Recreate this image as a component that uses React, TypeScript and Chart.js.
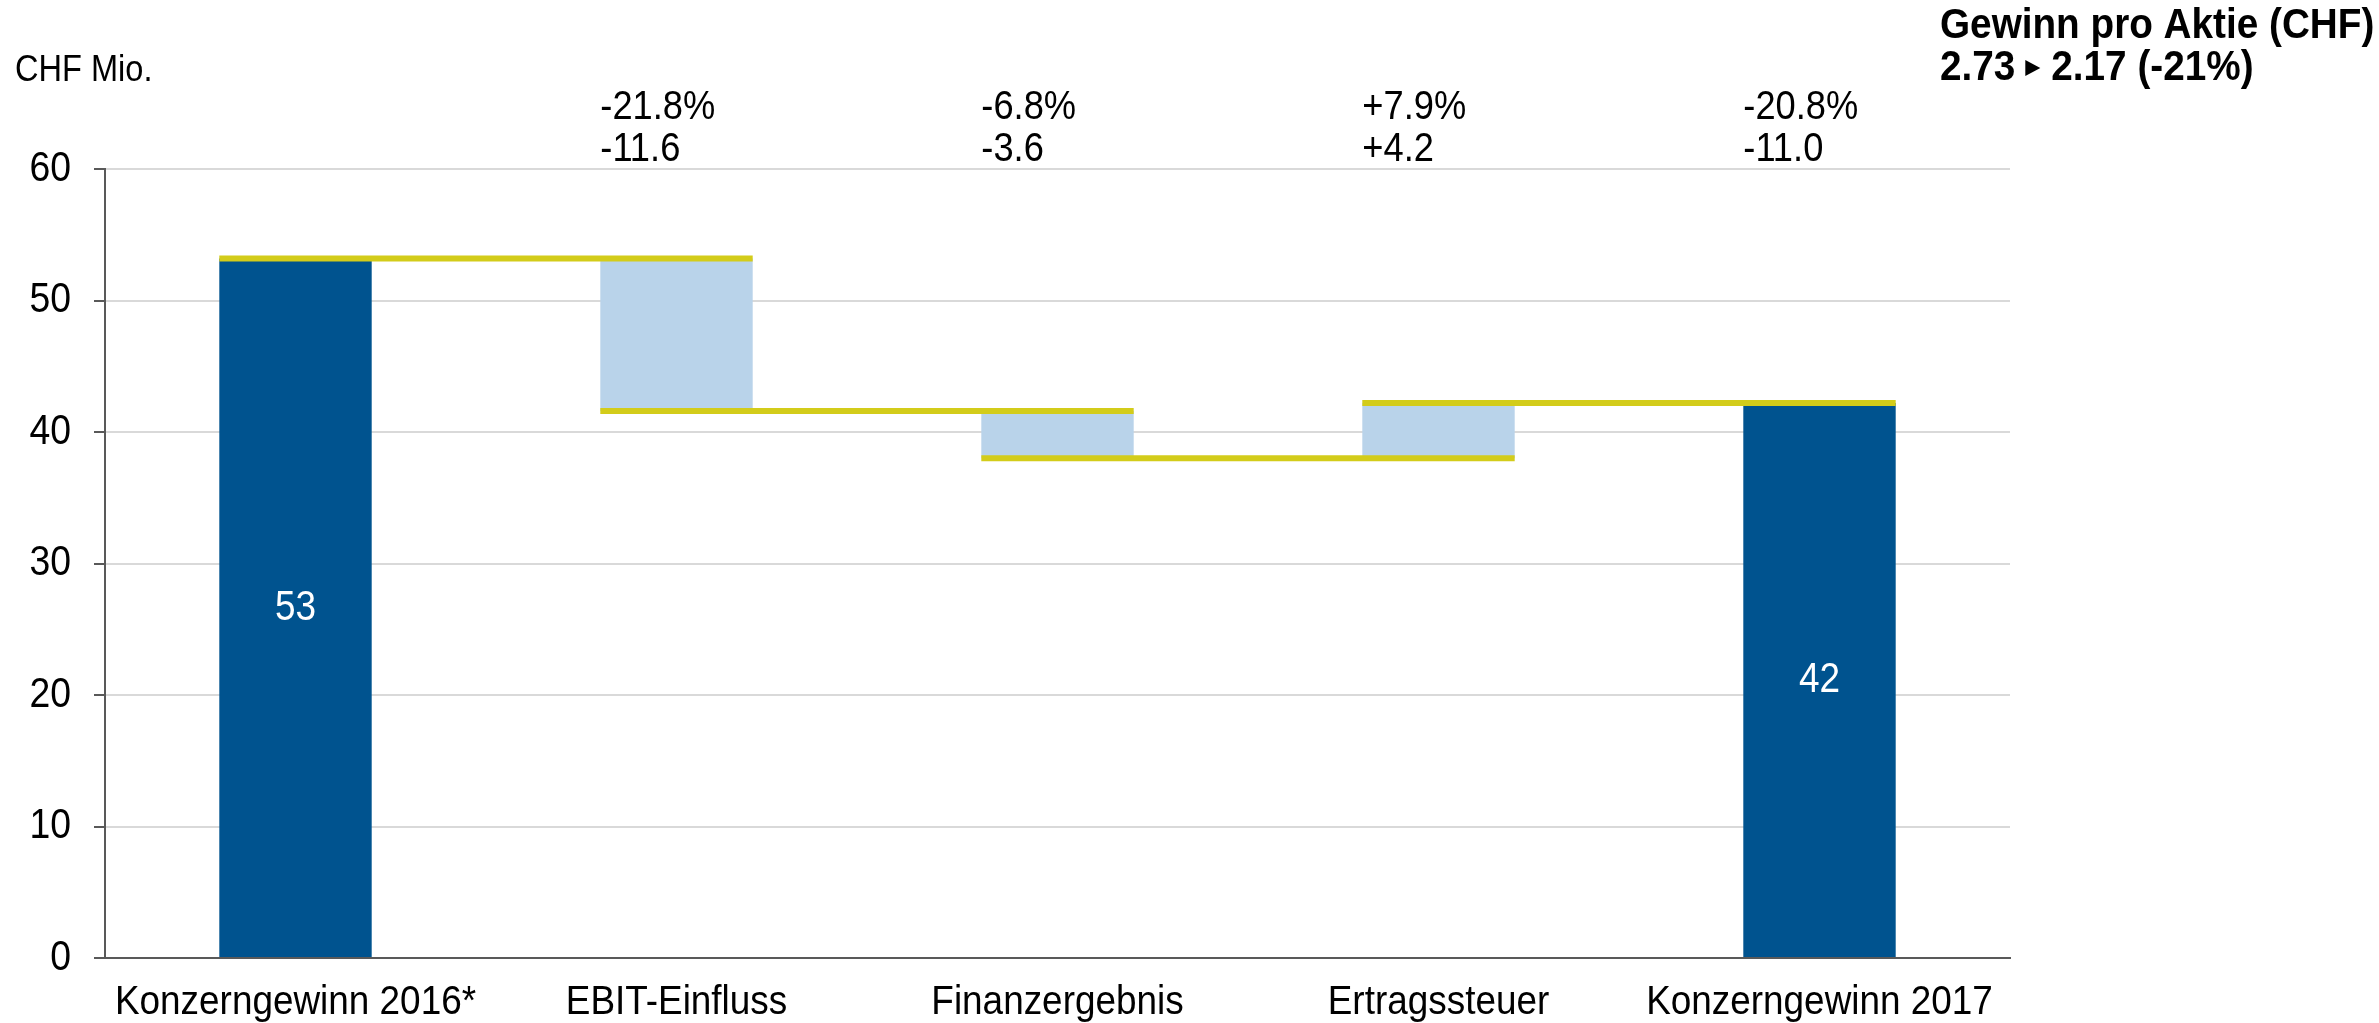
import React, { useEffect, useRef } from "react";
import { Chart, registerables } from "chart.js";

Chart.register(...registerables);

const categories = ["Konzerngewinn 2016*", "EBIT-Einfluss", "Finanzergebnis", "Ertragssteuer", "Konzerngewinn 2017"];
const barStart = [0, 41.6, 38.0, 38.0, 0];
const barEnd = [53.2, 53.2, 41.6, 42.2, 42.2];
const connectorLevels = [53.2, 41.6, 38.0, 42.2];
const pctLabels = ["", "-21.8%", "-6.8%", "+7.9%", "-20.8%"];
const diffLabels = ["", "-11.6", "-3.6", "+4.2", "-11.0"];
const insideLabels = ["53", "", "", "", "42"];
const barKinds = ["total", "delta", "delta", "delta", "total"];
const unitLabel = "CHF Mio.";
const epsTitle = "Gewinn pro Aktie (CHF)";
const epsFrom = "2.73";
const epsTo = "2.17 (-21%)";

const FONT = "'Liberation Sans', Arial, Helvetica, sans-serif";
const DARK_BLUE = "#00538F";
const LIGHT_BLUE = "#B9D3EA";
const YELLOW = "#D3CC1A";

const W = 2379;
const H = 1023;

function drawText(ctx: any, text: string, x: number, y: number, size: number, k: number, align: string, bold = false, color = "#000") {
  ctx.save();
  ctx.translate(x, y);
  ctx.scale(k, 1);
  ctx.font = `${bold ? "bold " : ""}${size}px ${FONT}`;
  ctx.fillStyle = color;
  ctx.textAlign = align;
  ctx.textBaseline = "middle";
  ctx.fillText(text, 0, 0);
  const w = ctx.measureText(text).width * k;
  ctx.restore();
  return w;
}

const overlayPlugin = {
  id: "overlay",
  afterDatasetsDraw(chart: any) {
    const ctx = chart.ctx;
    const meta = chart.getDatasetMeta(0);
    const y = chart.scales.y;
    const x = chart.scales.x;
    const area = chart.chartArea;
    ctx.save();
    ctx.strokeStyle = YELLOW;
    ctx.lineWidth = 6;
    connectorLevels.forEach((lvl, i) => {
      const a = meta.data[i];
      const b = meta.data[i + 1];
      if (!a || !b) return;
      const py = y.getPixelForValue(lvl);
      ctx.beginPath();
      ctx.moveTo(a.x - a.width / 2, py);
      ctx.lineTo(b.x + b.width / 2, py);
      ctx.stroke();
    });
    ctx.restore();

    insideLabels.forEach((t, i) => {
      if (!t) return;
      const el = meta.data[i];
      const mid = (barStart[i] + barEnd[i]) / 2;
      drawText(ctx, t, el.x, y.getPixelForValue(mid), 42, 0.88, "center", false, "#FFFFFF");
    });
    pctLabels.forEach((t, i) => {
      const el = meta.data[i];
      const left = el.x - el.width / 2;
      if (t) drawText(ctx, t, left, area.top - 61, 41, 0.885, "left");
      if (diffLabels[i]) drawText(ctx, diffLabels[i], left, area.top - 19, 41, 0.885, "left");
    });
    y.ticks.forEach((tk: any, i: number) => {
      drawText(ctx, String(tk.value), area.left - 34, y.getPixelForTick(i), 42, 0.89, "right");
    });
    categories.forEach((c, i) => {
      drawText(ctx, c, x.getPixelForTick(i), area.bottom + 45, 41, 0.9, "center");
    });
    drawText(ctx, unitLabel, 15, 71, 37, 0.88, "left");
    drawText(ctx, epsTitle, 1940, 26, 43, 0.9, "left", true);
    const w1 = drawText(ctx, epsFrom, 1940, 68, 43, 0.9, "left", true);
    const tx = 1940 + w1 + 10;
    ctx.save();
    ctx.fillStyle = "#000";
    ctx.beginPath();
    ctx.moveTo(tx, 60);
    ctx.lineTo(tx + 15, 68);
    ctx.lineTo(tx, 76);
    ctx.closePath();
    ctx.fill();
    ctx.restore();
    drawText(ctx, epsTo, tx + 15 + 11, 68, 43, 0.9, "left", true);
  },
};

export default function App() {
  const ref = useRef<HTMLCanvasElement | null>(null);
  useEffect(() => {
    if (!ref.current) return;
    const chart = new Chart(ref.current, {
      type: "bar",
      data: {
        labels: categories,
        datasets: [
          {
            data: barStart.map((s, i) => [s, barEnd[i]]) as any,
            backgroundColor: barKinds.map((k) => (k === "total" ? DARK_BLUE : LIGHT_BLUE)),
            borderWidth: 0,
            barPercentage: 0.4,
            categoryPercentage: 1,
          },
        ],
      },
      options: {
        responsive: false,
        animation: false,
        devicePixelRatio: 1,
        layout: { padding: { top: 169, right: 369, left: 0, bottom: 0 } },
        plugins: { legend: { display: false }, tooltip: { enabled: false } },
        scales: {
          x: {
            afterFit: (s: any) => { s.height = 65; },
            grid: { display: true, drawOnChartArea: false, drawTicks: false },
            border: { display: true, color: "#595959", width: 2 },
            ticks: { color: "rgba(0,0,0,0)", font: { size: 20, family: FONT }, padding: 20, maxRotation: 0, autoSkip: false },
          },
          y: {
            min: 0,
            max: 60,
            afterFit: (s: any) => { s.width = 105; },
            ticks: { stepSize: 10, color: "rgba(0,0,0,0)", font: { size: 20, family: FONT }, padding: 23 },
            grid: { color: "#D9D9D9", lineWidth: 2, tickColor: "#595959", tickLength: 11 },
            border: { display: true, color: "#595959", width: 2 },
          },
        },
      },
      plugins: [overlayPlugin],
    });
    return () => chart.destroy();
  }, []);
  return (
    <canvas
      ref={ref}
      width={W}
      height={H}
      style={{ position: "absolute", left: 0, top: 0, width: W, height: H, display: "block" }}
    />
  );
}
